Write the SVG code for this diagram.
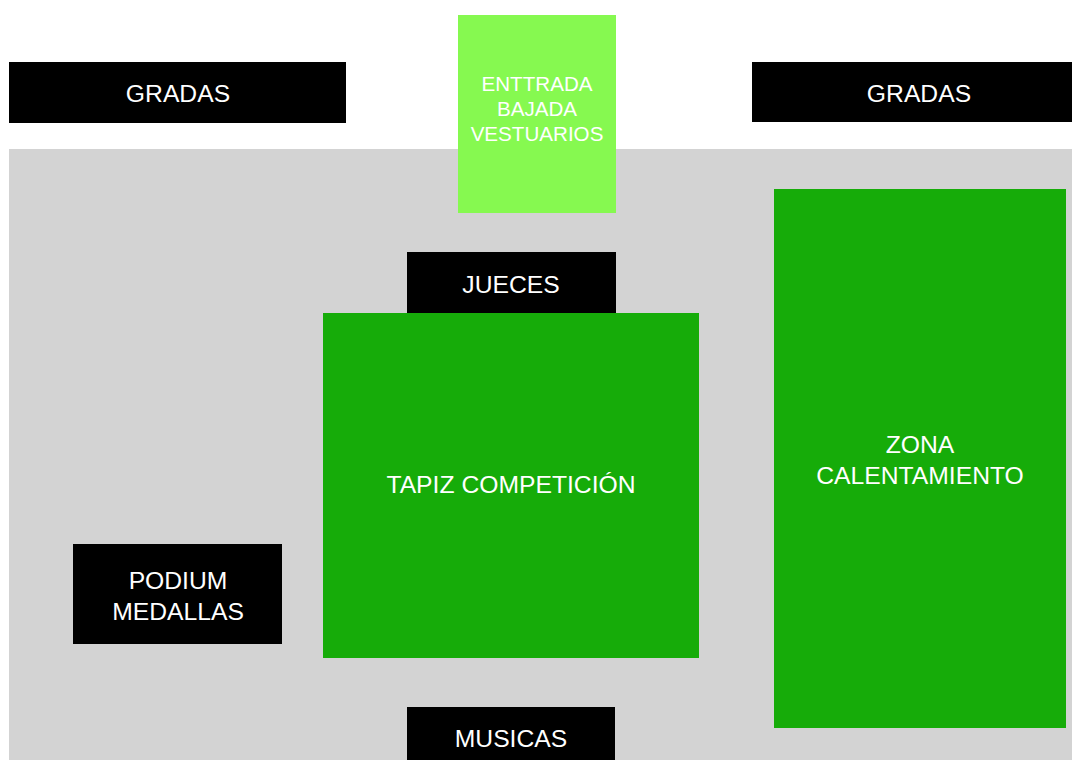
<svg xmlns="http://www.w3.org/2000/svg" width="1072" height="760" viewBox="0 0 1072 760">
<style>
.blk{fill:#000000;}
.lg{fill:#86F950;}
.dg{fill:#16AC09;}
.t{font-family:"Liberation Sans",Arial,Helvetica,sans-serif;fill:#ffffff;text-anchor:middle;font-size:24.7px;}
.s{font-size:20.6px;}
</style>
<rect x="0" y="0" width="1072" height="760" fill="#ffffff"/>
<rect id="floor" x="9" y="149" width="1063" height="611" fill="#D3D3D3"/>
<g id="connectors"></g>
<g id="gradas-left">
<rect class="blk" x="9" y="62" width="337" height="61"/>
<text class="t" x="178" y="102">GRADAS</text>
</g>
<g id="gradas-right">
<rect class="blk" x="752" y="62" width="320" height="60"/>
<text class="t" x="919" y="102">GRADAS</text>
</g>
<g id="entrada">
<rect class="lg" x="458" y="15" width="158" height="198"/>
<text class="t s" x="537" y="91">ENTTRADA</text>
<text class="t s" x="537" y="116">BAJADA</text>
<text class="t s" x="537" y="141">VESTUARIOS</text>
</g>
<g id="jueces">
<rect class="blk" x="407" y="252" width="209" height="61"/>
<text class="t" x="511" y="293">JUECES</text>
</g>
<g id="tapiz">
<rect class="dg" x="323" y="313" width="376" height="345"/>
<text class="t" x="511" y="493">TAPIZ COMPETICIÓN</text>
</g>
<g id="zona">
<rect class="dg" x="774" y="189" width="292" height="539"/>
<text class="t" x="920" y="453">ZONA</text>
<text class="t" x="920" y="484">CALENTAMIENTO</text>
</g>
<g id="podium">
<rect class="blk" x="73" y="544" width="209" height="100"/>
<text class="t" x="178" y="589">PODIUM</text>
<text class="t" x="178" y="620">MEDALLAS</text>
</g>
<g id="musicas">
<rect class="blk" x="407" y="707" width="208" height="61"/>
<text class="t" x="511" y="747">MUSICAS</text>
</g>
</svg>
